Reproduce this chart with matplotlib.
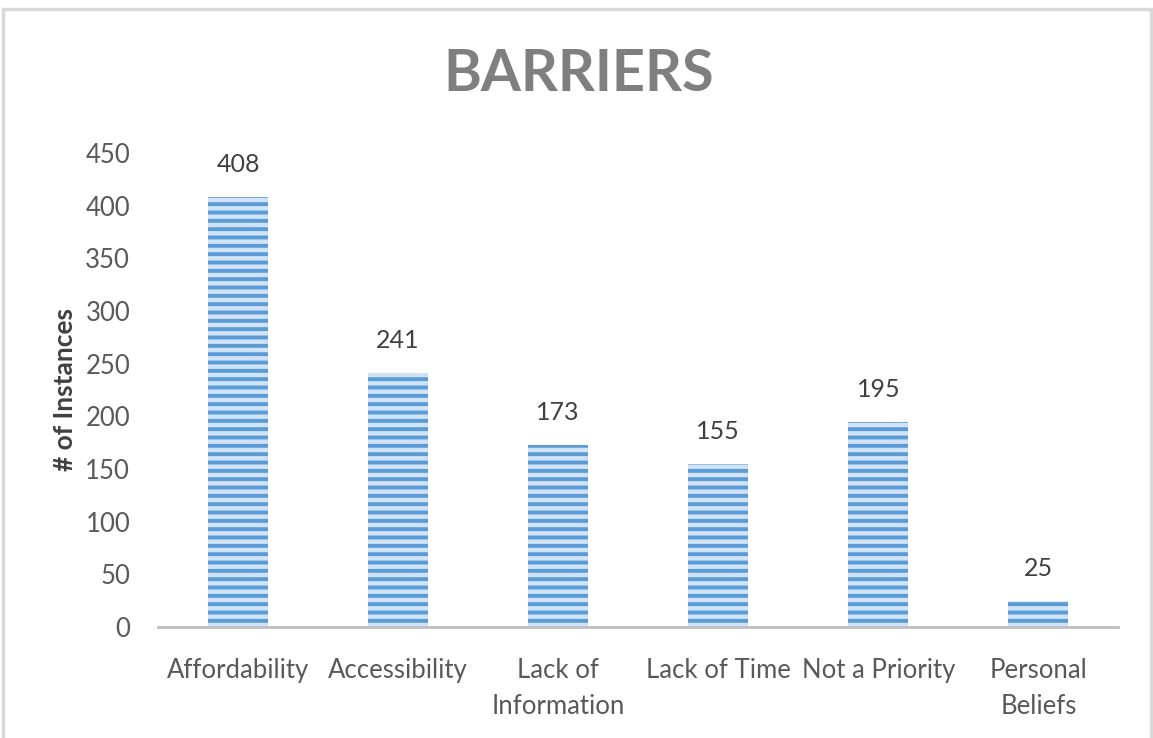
import matplotlib
matplotlib.use("Agg")
import matplotlib.pyplot as plt
from matplotlib.patches import Rectangle

categories = ["Affordability", "Accessibility", "Lack of\nInformation",
              "Lack of Time", "Not a Priority", "Personal\nBeliefs"]
instances = [408, 241, 173, 155, 195, 25]
yticks = [0, 50, 100, 150, 200, 250, 300, 350, 400, 450]

plt.rcParams["font.family"] = ["Lato", "DejaVu Sans"]
plt.rcParams["hatch.linewidth"] = 2.8
plt.rcParams["hatch.color"] = "#5b9bd5"

fig = plt.figure(figsize=(11.53, 7.38), dpi=100)
ax = fig.add_axes([0.137, 0.1504, 0.833, 0.6423])

# outer chart frame
fig.patches.append(Rectangle((0.003, -0.05), 0.995, 1.038, transform=fig.transFigure,
                             fill=False, edgecolor="#d9d9d9", linewidth=2.5))

x = range(len(categories))
bars = ax.bar(x, instances, width=0.375, color="#cfe2f6", edgecolor="#5b9bd5",
              linewidth=0, hatch="--")

for xi, v in zip(x, instances):
    ax.text(xi, v + 20, str(v), ha="center", va="bottom", fontsize=18, color="#404040")

ax.set_xlim(-0.5, len(categories) - 0.5)
ax.set_ylim(0, 450)
ax.set_yticks(yticks)
ax.set_xticks(list(x))
ax.set_xticklabels(categories, fontsize=18.5, color="#595959", linespacing=1.55)
ax.tick_params(axis="y", labelsize=18.5, labelcolor="#595959", length=0, pad=20)
ax.tick_params(axis="x", length=0, pad=22)

for s in ["top", "right", "left"]:
    ax.spines[s].set_visible(False)
ax.spines["bottom"].set_color("#bfbfbf")
ax.spines["bottom"].set_linewidth(2)

ax.set_ylabel("# of Instances", fontsize=19, fontweight="bold", color="#404040", labelpad=6)

fig.text(0.502, 0.899, "BARRIERS", ha="center", va="center", fontsize=41.5,
         fontweight="bold", color="#7f7f7f")

fig.savefig("out.png", dpi=100)
